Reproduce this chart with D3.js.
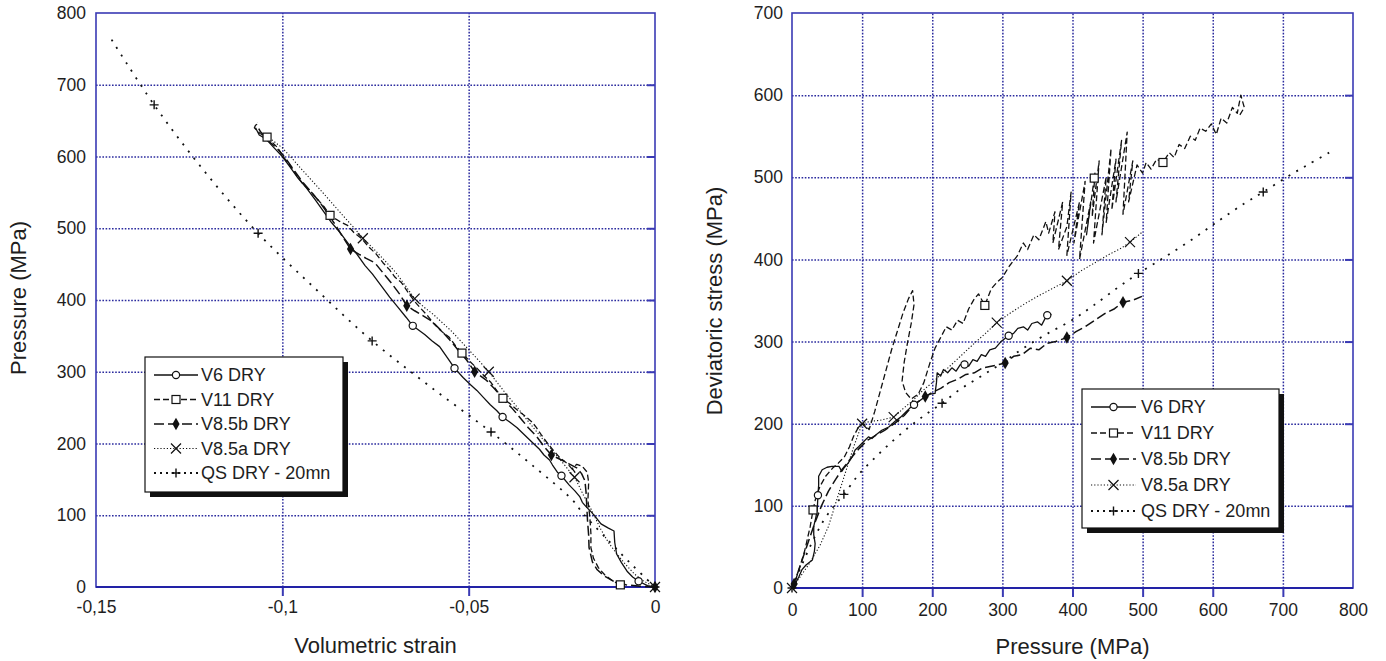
<!DOCTYPE html>
<html>
<head>
<meta charset="utf-8">
<script src="https://cdn.jsdelivr.net/npm/d3@7"></script>
<style>
body { margin: 0; background: #fff; }
svg text { font-family: "Liberation Sans", Arial, sans-serif; fill: #1e1e1e; }
</style>
</head>
<body>
<div id="chart"></div>
<script>
// ---------------- data: left panel (volumetric strain vs pressure) ----------------
var seriesNames = ["V6 DRY", "V11 DRY", "V8.5b DRY", "V8.5a DRY", "QS DRY - 20mn"];

var xTicksL = [-0.15, -0.1, -0.05, 0];
var xTickLabelsL = ["-0,15", "-0,1", "-0,05", "0"];
var yTicksL = [0, 100, 200, 300, 400, 500, 600, 700, 800];

var v6L = [[0,0],[-0.002,2],[-0.0044,8],[-0.006,14],[-0.0075,22],[-0.009,34],[-0.0103,46],[-0.0108,62],[-0.011,78],
  [-0.0125,82],[-0.0145,88],[-0.0157,96],[-0.017,104],[-0.0185,112],[-0.0195,118],[-0.0202,126],[-0.0215,134],
  [-0.023,142],[-0.0251,155],[-0.0262,160],[-0.0275,170],[-0.0283,177],[-0.0298,184],[-0.031,192],[-0.0322,198],
  [-0.0336,205],[-0.0352,213],[-0.037,222],[-0.039,230],[-0.0409,237],[-0.0425,246],[-0.0442,254],[-0.046,264],
  [-0.0478,274],[-0.0495,282],[-0.0515,292],[-0.0538,305],[-0.0555,318],[-0.0578,335],[-0.0598,343],[-0.0618,352],
  [-0.065,364],[-0.0668,376],[-0.069,390],[-0.0712,404],[-0.0735,420],[-0.0758,436],[-0.0778,448],[-0.08,464],
  [-0.0822,478],[-0.0845,494],[-0.0868,508],[-0.089,524],[-0.0912,540],[-0.0935,556],[-0.0958,570],[-0.098,586],
  [-0.1,600],[-0.1022,612],[-0.1045,625],[-0.1062,630],[-0.1072,640]];
var v6MarksL = [[-0.0044,8],[-0.0251,155],[-0.0409,237],[-0.0538,305],[-0.065,364]];

var v11L = [[-0.0093,3],[-0.0115,9],[-0.0135,17],[-0.0152,27],[-0.0165,40],[-0.0172,55],[-0.0172,75],[-0.0175,98],
  [-0.018,121],[-0.0178,146],[-0.0182,160],[-0.0195,168],[-0.021,171],[-0.0222,165],[-0.0215,160],[-0.0235,172],
  [-0.0255,180],[-0.0272,190],[-0.0288,200],[-0.0305,212],[-0.0318,222],[-0.033,230],[-0.0348,238],[-0.0368,246],
  [-0.0388,255],[-0.0408,263],[-0.0425,274],[-0.044,285],[-0.0458,294],[-0.0478,305],[-0.0498,315],[-0.0518,326],
  [-0.0535,336],[-0.0552,348],[-0.0572,356],[-0.0592,366],[-0.061,378],[-0.0628,388],[-0.0645,398],[-0.0662,410],
  [-0.068,424],[-0.0698,432],[-0.0712,442],[-0.073,452],[-0.0748,464],[-0.0768,474],[-0.0788,486],[-0.0808,494],
  [-0.0825,504],[-0.0848,510],[-0.0872,518],[-0.0888,530],[-0.0905,540],[-0.0925,552],[-0.0945,562],[-0.0962,574],
  [-0.098,588],[-0.0998,600],[-0.1012,612],[-0.1041,627],[-0.106,632],[-0.1075,640],[-0.1068,648]];
var v11MarksL = [[-0.0093,3],[-0.0408,263],[-0.0518,326],[-0.0872,518],[-0.1041,627]];

var v85bL = [[0,0],[-0.004,1],[-0.0078,3],[-0.0105,6],[-0.0135,15],[-0.0155,24],[-0.0168,35],[-0.0177,55],
  [-0.0178,72],[-0.0181,92],[-0.0183,112],[-0.0185,132],[-0.0188,148],[-0.0197,158],[-0.021,166],[-0.0232,172],
  [-0.0255,178],[-0.0278,184],[-0.0298,196],[-0.0318,210],[-0.034,222],[-0.0362,236],[-0.0385,250],[-0.0408,262],
  [-0.043,276],[-0.0452,288],[-0.0484,300],[-0.0505,316],[-0.0528,330],[-0.055,344],[-0.0575,358],[-0.0598,370],
  [-0.0622,378],[-0.0645,385],[-0.0666,392],[-0.0685,408],[-0.0708,424],[-0.073,438],[-0.0752,452],[-0.0775,458],
  [-0.0795,464],[-0.0817,471],[-0.0838,488],[-0.0858,505],[-0.088,522],[-0.0902,538],[-0.0925,552],[-0.0948,566],
  [-0.097,582],[-0.0992,598],[-0.1015,612],[-0.1038,622],[-0.1058,634],[-0.107,645]];
var v85bMarksL = [[0,0],[-0.0278,184],[-0.0484,300],[-0.0666,392],[-0.0817,471]];

var v85aL = [[0,0],[-0.003,8],[-0.0055,18],[-0.008,32],[-0.0105,48],[-0.0125,62],[-0.0145,80],[-0.016,96],
  [-0.0175,112],[-0.0192,128],[-0.0205,142],[-0.0216,153],[-0.0235,165],[-0.0255,178],[-0.0275,190],[-0.0298,204],
  [-0.032,218],[-0.0345,234],[-0.0372,252],[-0.0398,268],[-0.0422,284],[-0.0446,300],[-0.047,314],[-0.0495,328],
  [-0.052,342],[-0.0545,356],[-0.057,368],[-0.0595,380],[-0.062,390],[-0.0645,402],[-0.067,420],[-0.0695,438],
  [-0.072,452],[-0.0745,466],[-0.0768,478],[-0.0784,486],[-0.081,502],[-0.0838,518],[-0.0865,534],[-0.0892,550],
  [-0.092,566],[-0.0948,582],[-0.0975,598],[-0.1,612],[-0.1025,622],[-0.105,632]];
var v85aMarksL = [[0,0],[-0.0216,153],[-0.0446,300],[-0.0645,402],[-0.0784,486]];

var qsL = [[0,0],[-0.006,30],[-0.012,62],[-0.0194,103],[-0.0221,121],[-0.033,170],[-0.044,216],[-0.0605,280],
  [-0.0759,343],[-0.091,415],[-0.1065,493],[-0.121,580],[-0.1344,672],[-0.1462,766]];
var qsMarksL = [[0,0],[-0.044,216],[-0.0759,343],[-0.1065,493],[-0.1344,672]];

// ---------------- data: right panel (pressure vs deviatoric stress) ----------------
var xTicksR = [0, 100, 200, 300, 400, 500, 600, 700, 800];
var yTicksR = [0, 100, 200, 300, 400, 500, 600, 700];

var v6R = [[0,0],[5,6],[10,14],[14,22],[20,28],[29,34],[32,45],[33,54],[31,65],[31,75],[34,86],[36,95],[37,113],
  [38,125],[38,136],[43,144],[50,147],[57,148],[67,148],[71,142],[74,146],[80,152],[86,160],[90,168],[95,172],
  [102,178],[109,184],[114,182],[119,186],[128,192],[138,196],[147,203],[155,208],[162,214],[168,219],[174,223],
  [182,228],[190,233],[197,236],[204,237],[206,250],[207,262],[212,258],[216,266],[222,262],[228,268],[234,264],
  [240,272],[246,272],[252,270],[258,278],[264,276],[270,284],[276,282],[282,290],[290,292],[298,300],[309,307],
  [316,310],[322,316],[330,318],[336,314],[342,322],[350,324],[356,320],[362,330],[370,333]];
var v6MarksR = [[37,113],[174,223],[246,272],[309,307],[364,332]];

var v11R = [[0,0],[6,12],[12,28],[18,45],[22,60],[26,75],[30,95],[34,110],[40,124],[48,136],[58,146],[66,152],
  [75,160],[82,172],[88,185],[95,196],[102,200],[110,193],[118,215],[126,240],[134,265],[142,290],[150,312],
  [158,334],[166,352],[172,362],[174,345],[170,322],[165,300],[160,275],[157,252],[162,238],[170,230],[180,236],
  [188,250],[196,272],[204,292],[212,305],[220,318],[228,314],[236,326],[244,322],[252,340],[260,352],[266,358],
  [275,344],[284,364],[292,372],[300,378],[310,392],[321,404],[330,420],[336,412],[345,430],[352,424],[362,446],
  [366,432],[375,458],[372,420],[386,470],[380,412],[392,440],[398,482],[392,405],[410,470],[402,420],[418,495],
  [410,400],[426,470],[420,430],[432,505],[428,452],[438,520],[430,420],[448,500],[442,430],[455,535],[448,445],
  [462,522],[456,460],[470,545],[462,470],[478,555],[472,455],[486,520],[480,470],[492,515],[500,505],[505,518],
  [512,510],[520,522],[529,518],[538,530],[545,524],[552,540],[560,535],[568,550],[575,545],[582,560],[590,556],
  [598,565],[605,552],[612,572],[620,566],[628,585],[635,578],[640,600],[645,585],[638,575]];
var v11MarksR = [[30,95],[275,344],[431,499],[529,518]];

var v85bR = [[0,0],[8,18],[16,38],[24,58],[32,78],[42,100],[52,118],[62,132],[72,145],[84,158],[96,170],[108,180],
  [120,186],[132,192],[146,200],[160,210],[172,222],[182,228],[190,233],[200,238],[212,243],[224,250],[236,254],
  [248,260],[260,262],[272,268],[284,270],[295,272],[304,274],[316,282],[328,284],[340,292],[352,290],[364,298],
  [376,300],[392,305],[405,312],[418,318],[432,326],[446,334],[460,340],[472,348],[485,350],[499,355]];
var v85bMarksR = [[3,5],[190,233],[304,274],[392,305],[472,348]];

var v85aR = [[0,0],[12,14],[25,30],[40,52],[52,75],[64,108],[76,140],[88,172],[100,200],[112,203],[125,204],
  [135,206],[145,208],[158,218],[172,228],[186,240],[200,250],[215,262],[230,274],[245,286],[260,298],[276,310],
  [292,323],[310,334],[330,345],[350,355],[370,364],[392,374],[412,386],[432,396],[452,406],[470,414],[482,421],
  [492,428],[499,433]];
var v85aMarksR = [[0,0],[100,200],[145,208],[292,323],[392,374],[482,421]];

var qsR = [[0,0],[15,30],[30,58],[45,82],[60,100],[74,114],[95,138],[120,160],[145,180],[170,198],[192,212],
  [214,225],[240,242],[270,258],[300,274],[330,292],[365,310],[401,327],[430,344],[465,366],[494,383],[530,402],
  [570,424],[610,448],[645,468],[672,482],[705,500],[735,515],[766,530]];
var qsMarksR = [[0,0],[74,114],[214,225],[494,383],[672,482]];

// ---------------- styles ----------------
var styles = [
  { dash: null,    width: 1.3, marker: "circle",  curve: d3.curveLinear },
  { dash: "6,3",   width: 1.3, marker: "square",  curve: d3.curveLinear },
  { dash: "10,4",  width: 1.5, marker: "diamond", curve: d3.curveLinear },
  { dash: "1.2,2", width: 1.1, marker: "cross",   curve: d3.curveLinear },
  { dash: "2,7",   width: 1.8, marker: "plus",    curve: d3.curveCatmullRom }
];
var gridColor = "#2b2b9e";
var frameColor = "#3a3ab4";

var svg = d3.select("#chart").append("svg")
  .attr("width", 1386)
  .attr("height", 661);

svg.append("rect").attr("width", 1386).attr("height", 661).attr("fill", "#fff");

function drawMarker(g, type, px, py) {
  if (type == "circle") {
    g.append("circle").attr("cx", px).attr("cy", py).attr("r", 3.6)
      .attr("fill", "#fff").attr("stroke", "#111").attr("stroke-width", 1.2);
  } else if (type == "square") {
    g.append("rect").attr("x", px - 4).attr("y", py - 4).attr("width", 8).attr("height", 8)
      .attr("fill", "#fff").attr("stroke", "#111").attr("stroke-width", 1.2);
  } else if (type == "diamond") {
    g.append("path").attr("d", d3.symbol(d3.symbolDiamond, 45)())
      .attr("transform", "translate(" + px + "," + py + ")").attr("fill", "#111");
  } else if (type == "cross") {
    g.append("path").attr("d", "M-5,-5L5,5M-5,5L5,-5")
      .attr("transform", "translate(" + px + "," + py + ")")
      .attr("stroke", "#111").attr("stroke-width", 1.2).attr("fill", "none");
  } else {
    g.append("path").attr("d", "M-4.5,0L4.5,0M0,-4.5L0,4.5")
      .attr("transform", "translate(" + px + "," + py + ")")
      .attr("stroke", "#111").attr("stroke-width", 1.4).attr("fill", "none");
  }
}

function drawPanel(cfg) {
  var x = d3.scaleLinear().domain(cfg.xDomain).range(cfg.xRange);
  var y = d3.scaleLinear().domain(cfg.yDomain).range(cfg.yRange);
  var g = svg.append("g");
  var h = cfg.yRange[0] - cfg.yRange[1];
  var w = cfg.xRange[1] - cfg.xRange[0];

  // dotted grid
  var gx = g.append("g").attr("transform", "translate(0," + cfg.yRange[0] + ")")
    .call(d3.axisBottom(x).tickValues(cfg.xGrid).tickSize(-h).tickFormat(""));
  var gy = g.append("g").attr("transform", "translate(" + cfg.xRange[0] + ",0)")
    .call(d3.axisLeft(y).tickValues(cfg.yGrid).tickSize(-w).tickFormat(""));
  [gx, gy].forEach(function (a) {
    a.select(".domain").remove();
    a.selectAll("line").attr("stroke", gridColor).attr("stroke-width", 1.5).attr("stroke-dasharray", "1.6,1.6");
  });

  // frame
  g.append("rect").attr("x", cfg.xRange[0]).attr("y", cfg.yRange[1]).attr("width", w).attr("height", h)
    .attr("fill", "none").attr("stroke", frameColor).attr("stroke-width", 1.6);

  // inward ticks on the right and bottom borders
  var tr = g.append("g").attr("transform", "translate(" + cfg.xRange[1] + ",0)")
    .call(d3.axisRight(y).tickValues(cfg.yGrid).tickSize(-8).tickFormat(""));
  var tb = g.append("g").attr("transform", "translate(0," + cfg.yRange[0] + ")")
    .call(d3.axisTop(x).tickValues(cfg.xGrid).tickSize(-9).tickFormat(""));
  [tr, tb].forEach(function (a) {
    a.select(".domain").remove();
    a.selectAll("line").attr("stroke", frameColor).attr("stroke-width", 2);
  });
  g.append("line").attr("x1", cfg.xRange[0]).attr("x2", cfg.xRange[1])
    .attr("y1", cfg.yRange[0]).attr("y2", cfg.yRange[0])
    .attr("stroke", "#2222a6").attr("stroke-width", 2);

  // tick labels
  var ax = g.append("g").attr("transform", "translate(0," + cfg.yRange[0] + ")")
    .call(d3.axisBottom(x).tickValues(cfg.xTicks).tickSize(0).tickPadding(cfg.xPad)
      .tickFormat(function (d, i) { return cfg.xLabels[i]; }));
  var ay = g.append("g").attr("transform", "translate(" + cfg.xRange[0] + ",0)")
    .call(d3.axisLeft(y).tickValues(cfg.yTicks).tickSize(0).tickPadding(cfg.yPad));
  [ax, ay].forEach(function (a) {
    a.select(".domain").remove();
    a.selectAll("text").attr("font-size", 17.5).style("font-family", "'Liberation Sans', Arial, sans-serif").attr("fill", "#1e1e1e");
  });

  // axis titles
  g.append("text").attr("x", (cfg.xRange[0] + cfg.xRange[1]) / 2 + cfg.xTitleShift).attr("y", cfg.xTitleY)
    .attr("text-anchor", "middle").attr("font-size", 22).text(cfg.xTitle);
  g.append("text").attr("transform", "translate(" + cfg.yTitleX + "," + cfg.yTitleMid + ") rotate(-90)")
    .attr("text-anchor", "middle").attr("font-size", 22).text(cfg.yTitle);

  // series
  var plot = g.append("g");
  cfg.series.forEach(function (s, i) {
    var st = styles[i];
    plot.append("path")
      .datum(s.pts)
      .attr("fill", "none")
      .attr("stroke", "#111")
      .attr("stroke-width", st.width)
      .attr("stroke-dasharray", st.dash)
      .attr("stroke-linejoin", "round")
      .attr("d", d3.line().curve(st.curve)
        .x(function (d) { return x(d[0]) })
        .y(function (d) { return y(d[1]) }));
  });
  cfg.series.forEach(function (s, i) {
    s.marks.forEach(function (d) { drawMarker(plot, styles[i].marker, x(d[0]), y(d[1])); });
  });

  // legend with drop shadow
  var L = cfg.legend;
  var lg = g.append("g");
  lg.append("rect").attr("x", L.x + 5).attr("y", L.y + 5).attr("width", L.w).attr("height", L.h).attr("fill", "#111");
  lg.append("rect").attr("x", L.x).attr("y", L.y).attr("width", L.w).attr("height", L.h)
    .attr("fill", "#fff").attr("stroke", "#111").attr("stroke-width", 1.2);
  seriesNames.forEach(function (name, i) {
    var cy = L.y + L.first + i * L.step;
    var st = styles[i];
    lg.append("line").attr("x1", L.x + L.s0).attr("x2", L.x + L.s1).attr("y1", cy).attr("y2", cy)
      .attr("stroke", "#111").attr("stroke-width", st.width).attr("stroke-dasharray", st.dash == "2,7" ? "2,4" : st.dash);
    drawMarker(lg, st.marker, L.x + (L.s0 + L.s1) / 2, cy);
    lg.append("text").attr("x", L.x + L.tx).attr("y", cy).attr("dy", "0.36em")
      .attr("font-size", 18).text(name);
  });
}

drawPanel({
  xDomain: [-0.15, 0], xRange: [96, 655],
  yDomain: [0, 800], yRange: [587, 13],
  xGrid: [-0.1, -0.05], yGrid: [100, 200, 300, 400, 500, 600, 700],
  xTicks: xTicksL, xLabels: xTickLabelsL, yTicks: yTicksL,
  xPad: 14, yPad: 10,
  xTitle: "Volumetric strain", xTitleY: 653, xTitleShift: 0,
  yTitle: "Pressure (MPa)", yTitleX: 26, yTitleMid: 298,
  series: [
    { pts: v6L, marks: v6MarksL },
    { pts: v11L, marks: v11MarksL },
    { pts: v85bL, marks: v85bMarksL },
    { pts: v85aL, marks: v85aMarksL },
    { pts: qsL, marks: qsMarksL }
  ],
  legend: { x: 145, y: 357, w: 198, h: 135, first: 18, step: 24.5, s0: 9, s1: 53, tx: 56 }
});

drawPanel({
  xDomain: [0, 800], xRange: [792, 1353],
  yDomain: [0, 700], yRange: [588, 13],
  xGrid: [100, 200, 300, 400, 500, 600, 700], yGrid: [100, 200, 300, 400, 500, 600],
  xTicks: xTicksR, xLabels: xTicksR.map(String), yTicks: yTicksR,
  xPad: 16, yPad: 9,
  xTitle: "Pressure (MPa)", xTitleY: 654, xTitleShift: 0,
  yTitle: "Deviatoric stress (MPa)", yTitleX: 722, yTitleMid: 301,
  series: [
    { pts: v6R, marks: v6MarksR },
    { pts: v11R, marks: v11MarksR },
    { pts: v85bR, marks: v85bMarksR },
    { pts: v85aR, marks: v85aMarksR },
    { pts: qsR, marks: qsMarksR }
  ],
  legend: { x: 1082, y: 389, w: 197, h: 139, first: 18, step: 26, s0: 9, s1: 54, tx: 59 }
});
</script>
</body>
</html>
